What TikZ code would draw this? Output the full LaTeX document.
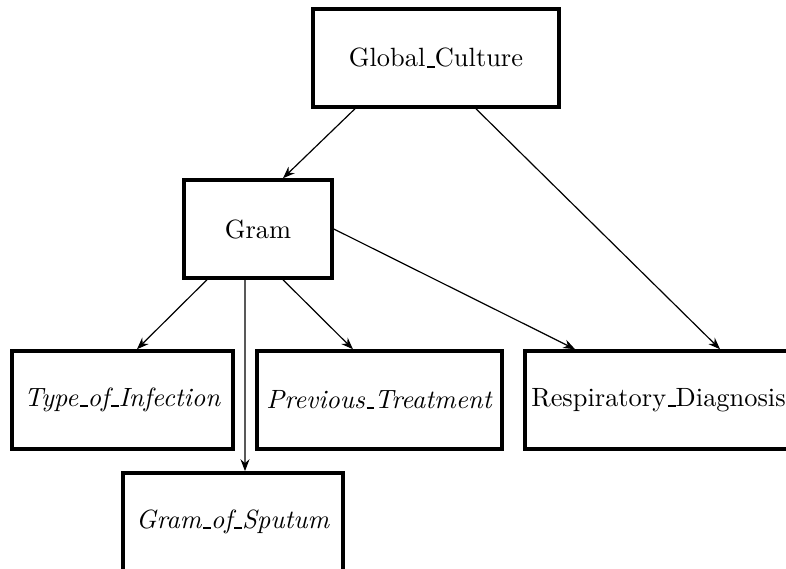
\documentclass[tikz,border=0pt]{standalone}
\usetikzlibrary{arrows.meta}
\newcommand\usc{\leavevmode\kern.06em\vbox{\hrule width.3em height.5pt depth.3pt}}
\begin{document}
\begin{tikzpicture}[-{Stealth[length=4.5pt,width=3.4pt]}, line width=0.45pt,
    var/.style={draw, rectangle, line width=1.35pt, minimum height=1.304cm, inner sep=0pt}]
        \useasboundingbox (0,0) rectangle (10.462,7.573);

        \node[var, minimum width=3.274cm] (glob) at (5.803,6.801) {Global\usc Culture};
        \node[var, minimum width=1.970cm] (gram) at (3.434,4.525) {Gram};
        \node[var, minimum width=2.942cm] (type) at (1.630,2.249) {\textit{Type\usc of\usc Infection}};
        \node[var, minimum width=3.261cm] (prev) at (5.051,2.249) {\textit{Previous\usc Treatment}};
        \node[var, minimum width=3.554cm] (resp) at (8.765,2.249) {Respiratory\usc Diagnosis};
        \node[var, minimum width=2.928cm] (sput) at (3.101,0.626) {\textit{Gram\usc of\usc Sputum}};

        \draw ([xshift=-1.078cm]glob.south) -- ([xshift=0.333cm]gram.north);
        \draw ([xshift=0.532cm]glob.south) -- ([xshift=0.819cm]resp.north);

        \draw ([xshift=-0.679cm]gram.south) -- ([xshift=0.193cm]type.north);
        \draw ([xshift=-0.173cm]gram.south) -- ([xshift=0.160cm]sput.north);
        \draw ([xshift=0.333cm]gram.south) -- ([xshift=-0.353cm]prev.north);
        \draw (gram.east) -- ([xshift=-1.111cm]resp.north);

      \end{tikzpicture}
\end{document}
